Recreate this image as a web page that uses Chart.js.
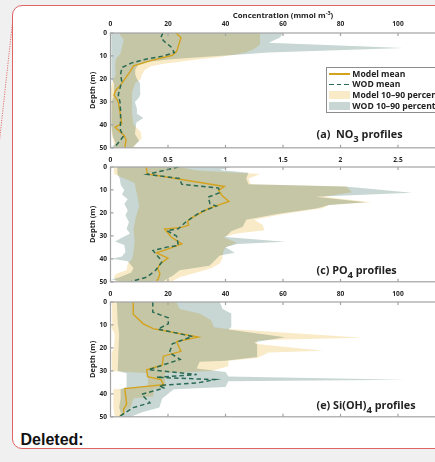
<!DOCTYPE html>
<html>
<head>
<meta charset="utf-8">
<script src="https://cdn.jsdelivr.net/npm/chart.js@4.4.1/dist/chart.umd.min.js"></script>
<style>
  html, body { margin: 0; padding: 0; width: 435px; height: 462px; overflow: hidden; background: #f0f0f0; }
  #page { position: relative; width: 435px; height: 462px; overflow: hidden; font-family: 'Open Sans', sans-serif; color: #222; }
  #box { position: absolute; left: 12.4px; top: 4.6px; width: 470px; height: 444px; box-sizing: border-box;
         border: 1.3px solid #df6464; border-radius: 10px; background: #fff; }
  #connector { position: absolute; left: 0; top: 0; width: 20px; height: 160px; }
  canvas { position: absolute; left: 0; }
  .txt { position: absolute; white-space: nowrap; font-weight: 700; }
  .title { font-size: 7.8px; line-height: 9px; }
  .title sup { font-size: 5.5px; line-height: 0; vertical-align: 3px; }
  .plabel { left: 316.5px; font-size: 10.8px; line-height: 12px; }
  .plabel sub { font-size: 9.5px; line-height: 0; vertical-align: -4px; }
  #legend { position: absolute; left: 326px; top: 66.5px; width: 150px; height: 46px; box-sizing: border-box;
            border: 1px solid #8c8c8c; background: #fff; }
  #legend .smp { position: absolute; left: 2px; width: 21px; }
  #legend .lt { position: absolute; left: 25.3px; font-size: 8.6px; line-height: 10px; font-weight: 700; white-space: nowrap; }
  .deleted { left: 20.5px; top: 430.5px; font-family: 'Liberation Sans', Arial, sans-serif; font-size: 16px; line-height: 18px; color: #111; }
</style>
</head>
<body>
<div id="page">
  <svg id="connector" viewBox="0 0 20 160">
    <line x1="13.3" y1="15" x2="-1.5" y2="150" stroke="#e07474" stroke-width="1" stroke-dasharray="1.2 1.2"/>
  </svg>
  <div id="box"></div>

  <canvas id="no3" width="470" height="152" style="top:0px"></canvas>
  <canvas id="po4" width="470" height="152" style="top:134px"></canvas>
  <canvas id="si" width="470" height="152" style="top:269px"></canvas>

  <div class="txt title" style="left:283px; top:10.8px; transform:translateX(-50%);">Concentration (mmol m<sup>-3</sup>)</div>

  <div id="legend">
    <div class="smp" style="top:5.8px; height:1.4px; background:#d4a21c;"></div>
    <div class="lt" style="top:1.3px;">Model mean</div>
    <div class="smp" style="top:16.3px; height:1.6px; background:repeating-linear-gradient(to right,#2b6a52 0 4.6px,transparent 4.6px 7.6px);"></div>
    <div class="lt" style="top:11.9px;">WOD mean</div>
    <div class="smp" style="top:23.6px; height:8.4px; background:#faebc8;"></div>
    <div class="lt" style="top:22.6px;">Model 10–90 percentile</div>
    <div class="smp" style="top:34.3px; height:8.4px; background:#c8d7d4;"></div>
    <div class="lt" style="top:33.3px;">WOD 10–90 percentile</div>
  </div>

  <div class="txt plabel" style="top:128.1px;">(a)&nbsp; NO<sub>3</sub> profiles</div>
  <div class="txt plabel" style="top:263.5px;">(c) PO<sub>4</sub> profiles</div>
  <div class="txt plabel" style="top:398.8px;">(e) Si(OH)<sub>4</sub> profiles</div>

  <div class="txt deleted">Deleted:</div>
</div>

<script>
// Tick labels
const concTicks = [0, 20, 40, 60, 80, 100];
const po4Ticks = [0, 0.5, 1, 1.5, 2, 2.5];
const depthTicks = [0, 10, 20, 30, 40, 50];

// Profiles as [depth (m), concentration] pairs
// NO3 (mmol m-3)
const no3ModelMean = [[0,22.8],[2,24.5],[5,23.8],[8,23],[9.7,21.5],[12,14],[14.3,8],[17,6.7],[20,5],[23,3.3],[25,1.8],[27,1.2],[28.5,2],[30,2.7],[33,3.1],[36,3.5],[39.5,3.9],[41,1.6],[42.5,2.8],[44.5,4.7],[46.5,5.4],[50,5]];
const no3WodMean = [[0,18.2],[2,17.5],[4,19],[6,21],[8.5,22.2],[10,18.5],[11.3,12.6],[13,7.4],[15,4],[18,3.5],[21,3.9],[24,3.3],[27,2.7],[30,3.3],[34,3.5],[38,3.5],[42,3.4],[45,4.4],[47,3.3],[50,1.2]];
const no3ModelP10 = [[0,3],[3,4.6],[6,4],[9,3.5],[11,2],[14,1.6],[18,1.8],[21,0.8],[24,0.2],[36,0.3],[42,0.3],[45,0.6],[48,1.2],[50,1.5]];
const no3ModelP90 = [[0,52],[5,52],[7,50],[8.5,47],[9.5,43],[10.5,38],[11.5,30],[12.5,24],[13.5,18],[14.5,14],[16,12],[18,11],[20,10.5],[22,8.5],[26,7.5],[35,7.5],[40,8],[43,10.5],[46,10.8],[48,9],[50,8]];
const no3WodP10 = [[0,0.3],[10,0.3],[20,0.4],[22,1.2],[27,1.3],[30,0.4],[40,0.3],[45,0.8],[48,1.8],[50,0.3]];
const no3WodP90 = [[0,60],[2,59],[4.3,55],[6.5,102],[8.5,55],[9.5,44],[10.5,32],[11.5,20],[12.5,13],[14,9.5],[16,8.6],[18,8.6],[20,9.2],[22,10.3],[26,10.5],[28,10],[30,8.5],[33,9.2],[35,9],[37,11.4],[39,9],[41,8.8],[44,8.5],[47,10],[50,7.5]];

// PO4 (mmol m-3)
const po4ModelMean = [[0,0.31],[3,0.32],[8.5,0.99],[10.2,0.94],[12.4,0.97],[15,1.03],[17.9,0.86],[22.6,0.69],[23.7,0.67],[25.3,0.68],[26.3,0.62],[27,0.47],[30.6,0.53],[33.5,0.62],[35.9,0.49],[37.4,0.4],[39.7,0.5],[42.2,0.43],[44.3,0.41],[46.5,0.43],[48.7,0.415],[49.5,0.4]];
const po4WodMean = [[0,0.59],[3.2,0.32],[5,0.6],[7.5,0.62],[9.2,0.94],[11.2,0.95],[13.1,0.85],[16,0.865],[17,0.92],[19.7,0.78],[23.7,0.66],[26.9,0.59],[27.7,0.49],[30.1,0.575],[34.2,0.59],[34.9,0.49],[36.4,0.37],[40,0.43],[41.5,0.445],[45.1,0.39],[48,0.315],[49.9,0.18]];
const po4ModelP10 = [[0,0.03],[3,0.03],[5,0.12],[7,0.21],[12,0.23],[17,0.25],[22,0.22],[27,0.2],[32,0.21],[37,0.2],[40,0.19],[42,0.15],[45,0.14],[46.5,0.05],[48,0.03],[50,0.05]];
const po4ModelP90 = [[0,0.6],[1.5,0.75],[3,1.3],[5,1.2],[7.5,1.22],[8.5,2.05],[11,2.1],[13,1.85],[15.4,2.27],[16.5,1.9],[18,1.84],[20.5,1.5],[23,1.25],[25,1.32],[27.5,1.34],[29,1.1],[30.5,0.98],[33,1.1],[35,1],[37,0.98],[40,0.97],[42,0.95],[44,0.88],[46,0.75],[48,0.6],[50,0.53]];
const po4WodP10 = [[0,0.06],[3,0.06],[5,0.08],[8,0.09],[10,0.12],[12,0.1],[14,0.15],[16,0.12],[19,0.15],[21,0.13],[24,0.16],[27,0.14],[29,0.17],[31,0.09],[32.5,0.04],[34,0.12],[37,0.13],[39,0.1],[40,0.01],[41,0.15],[44,0.2],[46,0.18],[48,0.08],[49,0.01],[50,0.1]];
const po4WodP90 = [[0,1.05],[1.3,0.95],[2.5,1.2],[5,1.18],[7.5,1.2],[8.5,2.04],[11.2,2.62],[13,1.78],[15.3,2.22],[16.5,1.9],[18,1.8],[20.5,1.45],[23,1.18],[26,1.15],[28,1.05],[30.5,1],[32.6,1.52],[33.5,1.1],[35,1],[37.4,1.08],[38.5,0.95],[41,0.9],[43,0.86],[45,0.6],[47,0.55],[50,0.45]];

// Si(OH)4 (mmol m-3)
const siModelMean = [[0,7.9],[5.3,7.9],[9.5,11.4],[11.6,14.8],[15.3,30.5],[17.2,23],[21.5,24.5],[23.6,18.4],[27.5,18],[29.5,12.6],[32.5,12.9],[33.8,17.5],[36,18.5],[37.7,5],[44.5,5.6],[46.8,4.5],[48.2,4.7],[50,3]];
const siWodMean = [[0,14.7],[4.4,14.7],[6.9,20.1],[9.5,20.1],[11.8,16.5],[15,28.5],[18.2,21.5],[22,20.5],[25,24.2],[29.5,13.2],[31.6,30],[32.8,16],[33.8,36.3],[35.3,30],[36.3,17],[37.5,18.5],[40.2,10.8],[43.9,13.7],[46,7.9],[49.7,3.3]];
const siModelP10 = [[0,0.5],[9,0.6],[11,0.3],[14,1.5],[20,1.2],[22,0.4],[30,0.5],[31,13],[37,13],[38,1],[46,1],[50,1.5]];
const siModelP90 = [[0,23],[3,24],[5,31],[8,35],[11,36],[11.7,40],[15.6,88],[16.3,60],[16.8,51],[18.3,51],[21.2,74],[22,55],[24.4,51],[25.6,41],[28,41],[30,35],[31,19],[37,19],[38,15],[41,15],[42,8],[46,7],[48,4],[50,3]];
const siWodP10 = [[0,2.2],[9,2.5],[14,3],[20,2.8],[30,2.5],[31,5.6],[37,5.6],[38,3.5],[42,3.5],[46,3],[48,3.5],[50,3.8]];
const siWodP90 = [[0,38],[3,39],[5,42],[11,42],[12,41],[15.4,60.7],[17.5,50],[18.5,51],[24,51],[25.6,40],[26,31],[29,30],[30.5,40],[32.5,41],[33.9,102.4],[34.5,41],[37,40],[38,22],[42,18],[46,17],[48,11],[50,7]];

const GOLD = '#d4a21c';
const GREEN = '#2b6a52';
const BEIGE = '#faebc8';
const BLUE = '#c8d7d4';
const AXIS = '#a3a3a3';
const INK = '#262626';

const toPts = pairs => pairs.map(([d, v]) => ({ x: v, y: d }));
// closed outline of a percentile band: down the low side, back up the high side
const bandPts = (lo, hi) => toPts(lo).concat(toPts(hi).reverse());

// overlapping percentile bands are blended multiplicatively
const blendBands = {
  id: 'blendBands',
  afterDatasetDraw(chart, args) {
    const ds = chart.data.datasets[args.index];
    chart.ctx.globalCompositeOperation = ds.blendNext ? 'multiply' : 'source-over';
  }
};

// box frame with inward tick marks
const frameTicks = {
  id: 'frameTicks',
  afterDraw(chart) {
    const { ctx, chartArea: a, scales: { x, y } } = chart;
    ctx.save();
    ctx.globalCompositeOperation = 'source-over';
    ctx.strokeStyle = AXIS;
    ctx.lineWidth = 1.2;
    ctx.strokeRect(a.left, a.top, a.right - a.left, a.bottom - a.top);
    ctx.beginPath();
    x.ticks.forEach(t => {
      const px = x.getPixelForValue(t.value);
      ctx.moveTo(px, a.top); ctx.lineTo(px, a.top + 3);
      ctx.moveTo(px, a.bottom); ctx.lineTo(px, a.bottom - 3);
    });
    y.ticks.forEach(t => {
      const py = y.getPixelForValue(t.value);
      ctx.moveTo(a.left, py); ctx.lineTo(a.left + 3, py);
    });
    ctx.stroke();
    ctx.restore();
  }
};

function makePanel(id, p) {
  const tickFont = { family: "'Open Sans', sans-serif", weight: 'bold', size: 6.6 };
  new Chart(document.getElementById(id), {
    type: 'scatter',
    data: {
      datasets: [
        { label: 'WOD mean', data: toPts(p.wodMean), showLine: true, fill: false,
          borderColor: GREEN, borderWidth: 1.5, borderDash: [4.5, 3], pointRadius: 0, order: 0 },
        { label: 'Model mean', data: toPts(p.modelMean), showLine: true, fill: false,
          borderColor: GOLD, borderWidth: 1.4, pointRadius: 0, order: 1 },
        { label: 'WOD 10–90 percentile', data: bandPts(p.wodLo, p.wodHi), showLine: true, fill: 'shape',
          backgroundColor: BLUE, borderColor: 'rgba(0,0,0,0)', borderWidth: 0, pointRadius: 0, order: 2 },
        { label: 'Model 10–90 percentile', data: bandPts(p.modelLo, p.modelHi), showLine: true, fill: 'shape',
          backgroundColor: BEIGE, borderColor: 'rgba(0,0,0,0)', borderWidth: 0, pointRadius: 0, order: 3,
          blendNext: true }
      ]
    },
    options: {
      responsive: false,
      animation: false,
      events: [],
      layout: { autoPadding: false, padding: { left: 88, right: 14.5, top: 14, bottom: 4.2 } },
      plugins: { legend: { display: false }, tooltip: { enabled: false } },
      scales: {
        x: {
          type: 'linear', position: 'top', min: 0, max: p.xMax,
          afterBuildTicks: s => { s.ticks = p.xTicks.map(v => ({ value: v })); },
          afterFit: s => { s.height = 19; s.paddingLeft = 0; s.paddingRight = 0; },
          grid: { display: false, drawTicks: false },
          border: { display: false },
          ticks: { font: tickFont, color: INK, padding: p.labelPad, maxRotation: 0, autoSkip: false,
                   callback: v => String(v) }
        },
        y: {
          type: 'linear', position: 'left', reverse: true, min: 0, max: 50,
          afterBuildTicks: s => { s.ticks = depthTicks.map(v => ({ value: v })); },
          afterFit: s => { s.width = 22.5; s.paddingTop = 0; s.paddingBottom = 0; },
          grid: { display: false, drawTicks: false },
          border: { display: false },
          ticks: { font: tickFont, color: INK, padding: 3.5, callback: v => String(v) },
          title: { display: true, text: 'Depth (m)', color: INK, padding: { top: 0.5, bottom: 0 },
                   font: { family: "'Open Sans', sans-serif", weight: 'bold', size: 7.5 } }
        }
      }
    },
    plugins: [blendBands, frameTicks]
  });
}

makePanel('no3', { xMax: 120, xTicks: concTicks, labelPad: 4.5,
  modelMean: no3ModelMean, wodMean: no3WodMean,
  modelLo: no3ModelP10, modelHi: no3ModelP90, wodLo: no3WodP10, wodHi: no3WodP90 });
makePanel('po4', { xMax: 3, xTicks: po4Ticks, labelPad: 3,
  modelMean: po4ModelMean, wodMean: po4WodMean,
  modelLo: po4ModelP10, modelHi: po4ModelP90, wodLo: po4WodP10, wodHi: po4WodP90 });
makePanel('si', { xMax: 120, xTicks: concTicks, labelPad: 3.5,
  modelMean: siModelMean, wodMean: siWodMean,
  modelLo: siModelP10, modelHi: siModelP90, wodLo: siWodP10, wodHi: siWodP90 });
</script>
</body>
</html>
